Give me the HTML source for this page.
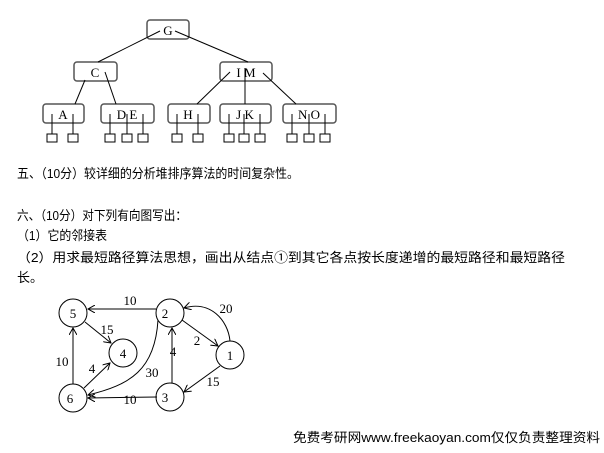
<!DOCTYPE html>
<html><head><meta charset="utf-8"><style>
body{margin:0;background:#fff;width:604px;height:448px;overflow:hidden}
text{font-family:"Liberation Serif","Noto Sans CJK SC",serif;fill:#000}
.c{font-family:"Liberation Sans","Noto Sans CJK SC",sans-serif;font-size:13px}
</style></head><body>
<svg width="604" height="448" viewBox="0 0 604 448" xmlns="http://www.w3.org/2000/svg">
<defs><marker id="a" markerWidth="8" markerHeight="8" refX="7" refY="4" orient="auto" markerUnits="userSpaceOnUse"><path d="M0,0 L7,4 L0,8" fill="none" stroke="#000" stroke-width="1"/></marker></defs>
<g fill="none" stroke="#555" stroke-width="1.5">
<rect x="147" y="20" width="42" height="19" rx="3"/>
<rect x="74" y="62" width="43" height="19" rx="3"/>
<rect x="220" y="62" width="52" height="19" rx="3"/>
<rect x="43" y="104" width="41" height="19" rx="3"/>
<rect x="101" y="104" width="53" height="19" rx="3"/>
<rect x="168" y="104" width="42" height="19" rx="3"/>
<rect x="220" y="104" width="51" height="19" rx="3"/>
<rect x="283" y="104" width="53" height="19" rx="3"/>
</g>
<g stroke="#000" stroke-width="1" fill="none">
<line x1="160" y1="31" x2="98" y2="62"/><line x1="175" y1="31" x2="248" y2="62"/>
<line x1="85" y1="80" x2="75" y2="104"/><line x1="105" y1="72" x2="116" y2="104"/>
<line x1="230" y1="72" x2="197" y2="104"/><line x1="245" y1="68" x2="245" y2="104"/><line x1="263" y1="73" x2="296" y2="104"/>
<line x1="52" y1="114" x2="52" y2="134"/><line x1="73" y1="114" x2="73" y2="134"/>
<line x1="110" y1="114" x2="110" y2="134"/><line x1="127" y1="114" x2="127" y2="134"/><line x1="143" y1="114" x2="143" y2="134"/>
<line x1="177" y1="114" x2="177" y2="134"/><line x1="198" y1="114" x2="198" y2="134"/>
<line x1="229" y1="114" x2="229" y2="134"/><line x1="244" y1="114" x2="244" y2="134"/><line x1="260" y1="114" x2="260" y2="134"/>
<line x1="292" y1="114" x2="292" y2="134"/><line x1="309" y1="114" x2="309" y2="134"/><line x1="325" y1="114" x2="325" y2="134"/>
<g>
<rect x="47" y="134" width="10" height="8"/><rect x="68" y="134" width="10" height="8"/>
<rect x="105" y="134" width="10" height="8"/><rect x="122" y="134" width="10" height="8"/><rect x="138" y="134" width="10" height="8"/>
<rect x="172" y="134" width="10" height="8"/><rect x="193" y="134" width="10" height="8"/>
<rect x="224" y="134" width="10" height="8"/><rect x="239" y="134" width="10" height="8"/><rect x="255" y="134" width="10" height="8"/>
<rect x="287" y="134" width="10" height="8"/><rect x="304" y="134" width="10" height="8"/><rect x="320" y="134" width="10" height="8"/>
</g>
</g>
<g font-size="13" text-anchor="middle">
<text x="168" y="35">G</text><text x="95" y="77">C</text><text x="246" y="77">I M</text>
<text x="63" y="119">A</text><text x="127" y="119">D E</text><text x="188" y="119">H</text><text x="245" y="119">J K</text><text x="309" y="119">N O</text>
</g>
<text class="c" x="17" y="178" textLength="282" lengthAdjust="spacingAndGlyphs">五、（10分）较详细的分析堆排序算法的时间复杂性。</text>
<text class="c" x="17" y="220" textLength="170" lengthAdjust="spacingAndGlyphs">六、（10分）对下列有向图写出：</text>
<text class="c" x="17" y="240" textLength="90" lengthAdjust="spacingAndGlyphs">（1）它的邻接表</text>
<text class="c" x="17" y="262" textLength="548" lengthAdjust="spacingAndGlyphs">（2）用求最短路径算法思想，画出从结点①到其它各点按长度递增的最短路径和最短路径</text>
<text class="c" x="17" y="282">长。</text>
<g fill="none" stroke="#000" stroke-width="1">
<circle cx="73" cy="313" r="14"/><circle cx="170" cy="313" r="14"/><circle cx="123" cy="353" r="14"/>
<circle cx="230" cy="355" r="14"/><circle cx="73" cy="398" r="14"/><circle cx="170" cy="397" r="14"/>
<line x1="156" y1="309" x2="88" y2="309" marker-end="url(#a)"/>
<line x1="85" y1="322" x2="111" y2="343" marker-end="url(#a)"/>
<line x1="73" y1="384" x2="73" y2="328" marker-end="url(#a)"/>
<line x1="84" y1="388" x2="110" y2="363" marker-end="url(#a)"/>
<line x1="157" y1="397" x2="88" y2="398" marker-end="url(#a)"/>
<line x1="172" y1="383" x2="172" y2="328" marker-end="url(#a)"/>
<line x1="182" y1="320" x2="218" y2="346" marker-end="url(#a)"/>
<line x1="220" y1="366" x2="184" y2="392" marker-end="url(#a)"/>
<path d="M230,341 C228,320 210,300 184,308" marker-end="url(#a)"/>
<path d="M158,320 C155,370 130,385 88,395" marker-end="url(#a)"/>
</g>
<g font-size="13" text-anchor="middle">
<text x="73" y="318">5</text><text x="165" y="318">2</text><text x="123" y="358">4</text>
<text x="230" y="360">1</text><text x="70" y="403">6</text><text x="165" y="402">3</text>
<text x="130" y="305">10</text><text x="107" y="334">15</text><text x="62" y="366">10</text>
<text x="92" y="373">4</text><text x="152" y="377">30</text><text x="173" y="356">4</text>
<text x="197" y="345">2</text><text x="226" y="313">20</text><text x="213" y="386">15</text><text x="130" y="404">10</text>
</g>
<text class="c" x="293" y="442" textLength="307" lengthAdjust="spacingAndGlyphs">免费考研网www.freekaoyan.com仅仅负责整理资料</text>
</svg>
</body></html>
